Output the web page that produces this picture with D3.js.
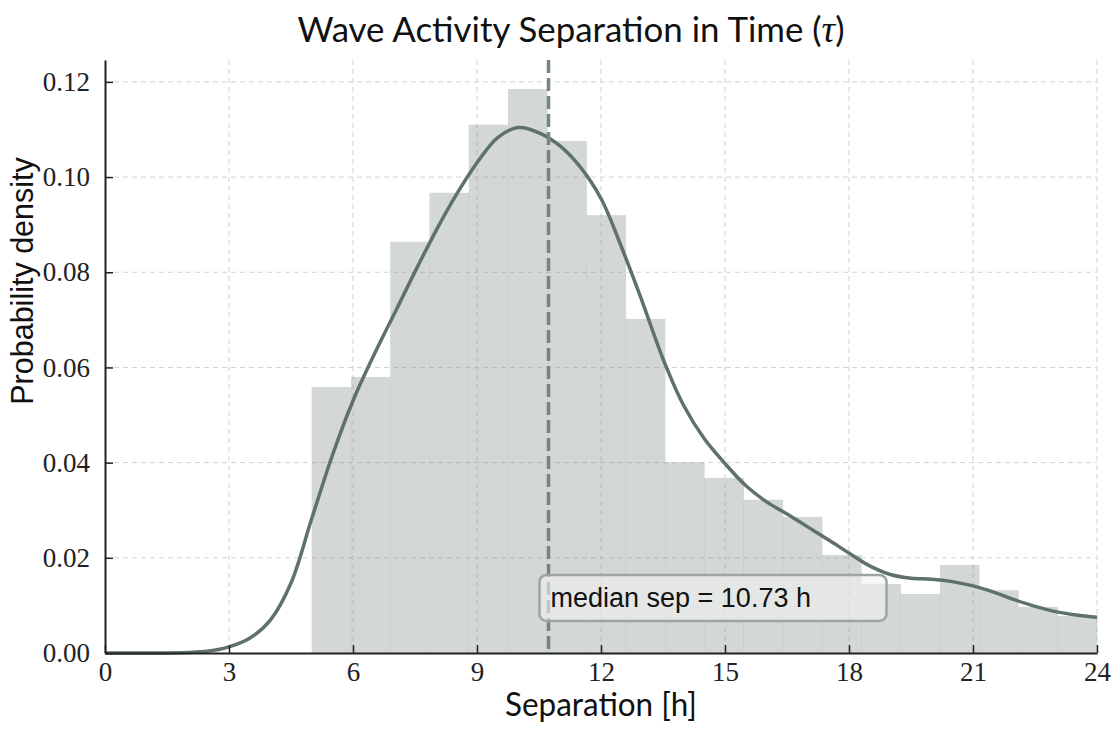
<!DOCTYPE html>
<html>
<head>
<meta charset="utf-8">
<script src="https://cdn.jsdelivr.net/npm/d3@7"></script>
<style>
  body { margin: 0; background: #fff; }
</style>
</head>
<body>
<div id="chart"></div>
<script>
// Data --------------------------------------------------------
// histogram: 20 bins of 0.95 h from 5 h to 24 h
const binStart = 5;
const binWidth = 0.95;
const histDensity = [0.0559, 0.0580, 0.0864, 0.0967, 0.1110, 0.1185, 0.1076, 0.0920, 0.0702, 0.0401,
                     0.0368, 0.0322, 0.0286, 0.0206, 0.0145, 0.0124, 0.0185, 0.0132, 0.0097, 0.0078];

// kernel density curve
const kdeX = [0, 1, 2, 2.5, 3, 3.5, 4, 4.5, 5, 5.5, 6, 6.5, 7, 7.5, 8, 8.5, 9, 9.5, 10, 10.5, 11, 11.5,
              12, 12.5, 13, 13.5, 14, 14.5, 15, 15.5, 16, 16.5, 17, 17.5, 18, 18.5, 19, 19.5, 20, 20.5,
              21, 21.5, 22, 22.5, 23, 23.5, 24];
const kdeY = [0, 0, 0.0001, 0.0004, 0.0013, 0.0031, 0.0069, 0.0147, 0.0282, 0.0415, 0.0530, 0.0625,
              0.0713, 0.0801, 0.0886, 0.0963, 0.1030, 0.1083, 0.1104, 0.1093, 0.1066, 0.1021, 0.0955,
              0.0852, 0.0738, 0.0618, 0.0520, 0.0450, 0.0398, 0.0352, 0.0318, 0.0292, 0.0265, 0.0238,
              0.0210, 0.0183, 0.0165, 0.0157, 0.0155, 0.0150, 0.0141, 0.0128, 0.0112, 0.0098, 0.0087,
              0.0080, 0.0075];

const medianSep = 10.73;

const xTicks = [0, 3, 6, 9, 12, 15, 18, 21, 24];
const yTicks = [0, 0.02, 0.04, 0.06, 0.08, 0.10, 0.12];

// Layout ------------------------------------------------------
const W = 1114, H = 730;
const margin = { top: 60, right: 17, bottom: 77, left: 105 };
const width = W - margin.left - margin.right,
      height = H - margin.top - margin.bottom;

const curveColor = "#5e716a";
const serif = "'Liberation Serif', 'Times New Roman', serif";
const sans = "'Liberation Sans', Arial, Helvetica, sans-serif";
const cmSans = "'Lato', 'Noto Sans', sans-serif";

const svg = d3.select("#chart")
    .append("svg")
    .attr("width", W)
    .attr("height", H);

const g = svg.append("g")
    .attr("transform", "translate(" + margin.left + "," + margin.top + ")");

const x = d3.scaleLinear().domain([0, 24]).range([0, width]);
const y = d3.scaleLinear().domain([0, 0.1246]).range([height, 0]);

// grid (dashed, light)
g.append("g")
    .selectAll("line")
    .data(xTicks.filter(d => d > 0))
    .enter().append("line")
    .attr("x1", d => x(d)).attr("x2", d => x(d))
    .attr("y1", 0).attr("y2", height)
    .attr("stroke", "#d2d2d2")
    .attr("stroke-width", 1)
    .attr("stroke-dasharray", "5,4");

g.append("g")
    .selectAll("line")
    .data(yTicks.filter(d => d > 0))
    .enter().append("line")
    .attr("x1", 0).attr("x2", width)
    .attr("y1", d => y(d)).attr("y2", d => y(d))
    .attr("stroke", "#d2d2d2")
    .attr("stroke-width", 1)
    .attr("stroke-dasharray", "5,4");

// histogram bars
g.append("g")
    .selectAll("rect")
    .data(histDensity)
    .enter().append("rect")
    .attr("x", (d, i) => x(binStart + i * binWidth))
    .attr("y", d => y(d))
    .attr("width", (d, i) => x(binStart + (i + 1) * binWidth) - x(binStart + i * binWidth) + 0.3)
    .attr("height", d => height - y(d))
    .attr("fill", "#7f8c87")
    .attr("fill-opacity", 0.34);

// density curve
const line = d3.line()
    .x(d => x(d[0]))
    .y(d => y(Math.max(0, d[1])))
    .curve(d3.curveCatmullRom.alpha(0.5));

g.append("path")
    .datum(d3.zip(kdeX, kdeY))
    .attr("d", line)
    .attr("fill", "none")
    .attr("stroke", curveColor)
    .attr("stroke-width", 3.5);

// median line
g.append("line")
    .attr("x1", x(medianSep)).attr("x2", x(medianSep))
    .attr("y1", 0).attr("y2", height)
    .attr("stroke", "#76857f")
    .attr("stroke-width", 3.5)
    .attr("stroke-dasharray", "13,5");

// annotation box
const boxX = x(medianSep) - 9, boxY = y(0.0164);
g.append("rect")
    .attr("x", boxX)
    .attr("y", boxY)
    .attr("width", 347)
    .attr("height", 46)
    .attr("rx", 7)
    .attr("fill", "#f2f2f2")
    .attr("fill-opacity", 0.6)
    .attr("stroke", "#9ba6a2")
    .attr("stroke-width", 2.5);

g.append("text")
    .attr("x", boxX + 11)
    .attr("y", boxY + 32)
    .attr("font-family", sans)
    .attr("font-size", 27)
    .attr("fill", "#111")
    .text("median sep = " + medianSep.toFixed(2) + " h");

// axes --------------------------------------------------------
const xAxis = g.append("g")
    .attr("transform", "translate(0," + height + ")")
    .call(d3.axisBottom(x).tickValues(xTicks).tickSizeInner(-8).tickSizeOuter(0).tickPadding(10)
        .tickFormat(d3.format("d")));
const yAxis = g.append("g")
    .call(d3.axisLeft(y).tickValues(yTicks).tickSizeInner(-8).tickSizeOuter(0).tickPadding(15)
        .tickFormat(d3.format(".2f")));

[xAxis, yAxis].forEach(a => {
    a.select(".domain").attr("stroke", "#222").attr("stroke-width", 2);
    a.selectAll(".tick line").attr("stroke", "#222").attr("stroke-width", 1.5);
    a.selectAll(".tick text")
        .attr("font-family", serif)
        .attr("font-size", 27)
        .attr("fill", "#222");
});
xAxis.selectAll(".tick text").attr("dy", "0.66em");

// titles ------------------------------------------------------
const title = svg.append("text")
    .attr("x", 571)
    .attr("y", 42)
    .attr("text-anchor", "middle")
    .attr("font-family", cmSans)
    .attr("font-size", 35)
    .attr("fill", "#111")
    .attr("textLength", 547)
    .attr("lengthAdjust", "spacingAndGlyphs");
title.append("tspan").text("Wave Activity Separation in Time (");
title.append("tspan").attr("font-family", serif).attr("font-style", "italic").attr("font-size", 38).text("τ");
title.append("tspan").text(")");

svg.append("text")
    .attr("x", margin.left + width / 2)
    .attr("y", 716)
    .attr("text-anchor", "middle")
    .attr("font-family", cmSans)
    .attr("font-size", 32)
    .attr("fill", "#111")
    .attr("textLength", 192)
    .attr("lengthAdjust", "spacingAndGlyphs")
    .text("Separation [h]");

svg.append("text")
    .attr("transform", "translate(33,281) rotate(-90)")
    .attr("text-anchor", "middle")
    .attr("font-family", sans)
    .attr("font-size", 30.5)
    .attr("fill", "#111")
    .text("Probability density");
</script>
</body>
</html>
